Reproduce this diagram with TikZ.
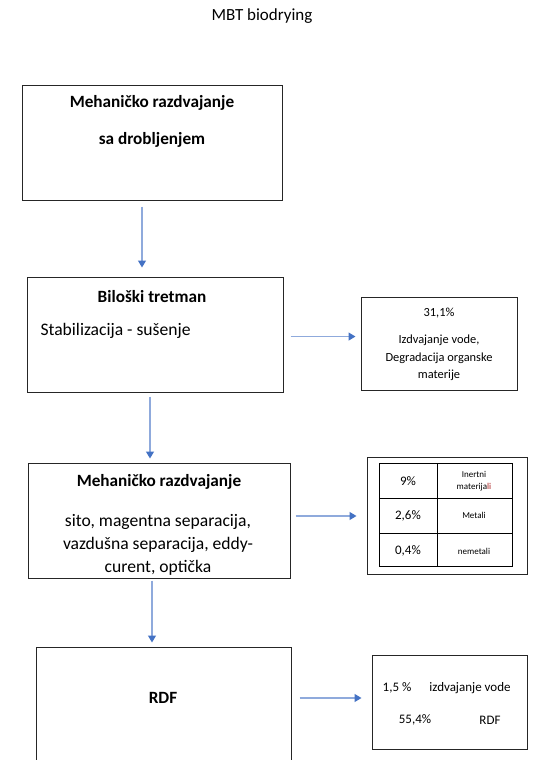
\documentclass[tikz,border=0pt]{standalone}
\usepackage{fontspec}
\setmainfont{Carlito}
\usepackage{tikz}
\usetikzlibrary{arrows.meta,positioning}

\definecolor{flowline}{RGB}{143,170,220}
\definecolor{flowhead}{RGB}{68,114,196}
\definecolor{spellred}{RGB}{170,30,30}

\tikzset{
    box/.style={draw=black!85,line width=1pt,inner sep=0pt,minimum height=115pt},
    sidebox/.style={draw=black!85,line width=1pt,inner sep=0pt},
    flow/.style={draw=flowline,line width=1.3pt,-{Triangle[width=8pt,length=7pt,color=flowhead]}},
    head/.style={font=\fontsize{17.2}{20}\selectfont\bfseries},
    body/.style={font=\fontsize{17.6}{23}\selectfont},
    small/.style={font=\fontsize{12.4}{17.5}\selectfont},
    pct/.style={font=\fontsize{13}{16}\selectfont},
    tiny/.style={font=\fontsize{9}{12}\selectfont}
}

\begin{document}
\begin{tikzpicture}[x=1pt,y=-1pt]
            \useasboundingbox (0,0) rectangle (536,760);
            \clip (0,0) rectangle (536,760);
            \node[font=\fontsize{17}{20}\selectfont] (title) at (262,16) {MBT biodrying};

            % left column
            \node[box,minimum width=260pt] (b1) at (152,142.5) {};
            \node[head] (b1a) at (152,103) {Mehaničko razdvajanje};
            \node[head] (b1b) at (152,140) {sa drobljenjem};

            \node[box,minimum width=256pt] (b2) at (155,334.5) {};
            \node[head] (b2a) at (152,297) {Biloški tretman};
            \node[body,anchor=west] (b2b) at (37,331) {Stabilizacija - sušenje};

            \node[box,minimum width=262pt] (b3) at (159,520.5) {};
            \node[head] (b3a) at (159,482) {Mehaničko razdvajanje};
            \node[body,align=center] (b3b) at (158,545) {sito, magentna separacija,\\vazdušna separacija, eddy-\\curent, optička};

            \node[box,minimum width=255pt,minimum height=140pt] (b4) at (163.5,717) {};
            \node[head] (b4a) at (163,698) {RDF};

            % right column
            \node[sidebox,minimum width=156pt,minimum height=93pt] (r1) at (439,343.5) {};
            \node[small] (r1a) at (439,313) {31,1\%};
            \node[small,align=center] (r1b) at (439,358) {Izdvajanje vode,\\Degradacija organske\\materije};

            \node[sidebox,minimum width=160pt,minimum height=117pt] (r2) at (447,515.5) {};
            \draw[line width=1pt] (379,463) rectangle (512,566);
            \draw[line width=1pt] (437,463) -- (437,566);
            \draw[line width=1pt] (379,498) -- (512,498);
            \draw[line width=1pt] (379,533) -- (512,533);
            \node[pct] (p1) at (408,481) {9\%};
            \node[tiny,align=center] (m1) at (474,481) {Inertni\\materija\textcolor{spellred}{li}};
            \node[pct] (p2) at (408,516) {2,6\%};
            \node[tiny] (m2) at (474,515) {Metali};
            \node[pct] (p3) at (408,551) {0,4\%};
            \node[tiny] (m3) at (474,551) {nemetali};

            \node[sidebox,minimum width=155pt,minimum height=94pt] (r3) at (449.5,702) {};
            \node[pct] (q1) at (397,688) {1,5 \%};
            \node[pct] (q2) at (470,688) {izdvajanje vode};
            \node[pct] (q3) at (415,720) {55,4\%};
            \node[pct] (q4) at (490,720) {RDF};

            % arrows
            \coordinate (c1) at (142,0);
            \coordinate (c2) at (150,0);
            \coordinate (c3) at (152,0);
            \draw[flow,shorten <=6pt,shorten >=9pt] (b1.south -| c1) -- (b2.north -| c1);
            \draw[flow,shorten <=4pt,shorten >=4pt] (b2.south -| c2) -- (b3.north -| c2);
            \draw[flow,shorten <=2pt,shorten >=4pt] (b3.south -| c3) -- (b4.north -| c3);
            \draw[flow,shorten <=7pt,shorten >=5pt] (b2.east |- r1a.south) ++(0,15) coordinate (s1) -- (r1.west |- s1);
            \draw[flow,shorten <=5pt,shorten >=10pt] (b3.east |- p2) -- (r2.west |- p2);
            \draw[flow,shorten <=8pt,shorten >=10pt] (b4.east |- b4a) -- (r3.west |- b4a);
        \end{tikzpicture}
\end{document}
